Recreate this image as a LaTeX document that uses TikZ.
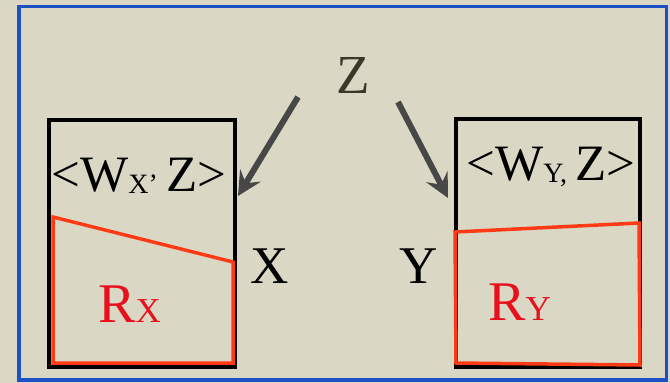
\documentclass[tikz,border=0pt]{standalone}
\usepackage{fontspec}
\setmainfont{Liberation Serif}
\newfontfamily\tnr{Liberation Serif}
\usetikzlibrary{arrows.meta}
\definecolor{bg}{HTML}{DAD8C5}
\definecolor{framecol}{HTML}{1C50C4}
\definecolor{redline}{HTML}{FF3A14}
\definecolor{redtext}{HTML}{E8101C}
\definecolor{arrowgray}{HTML}{474747}
\definecolor{zcol}{HTML}{3A3828}
\newcommand{\fs}[1]{\fontsize{#1}{#1}\selectfont}
\tikzset{
  boxstyle/.style={draw=black, line width=3.5pt, inner sep=0pt, anchor=north west},
  redstyle/.style={draw=redline, line width=3.5pt, line join=miter},
  arrowstyle/.style={draw=arrowgray, line width=6pt,
    -{Stealth[length=24pt,width=24pt,inset=9pt]}},
  lbl/.style={inner sep=0pt, anchor=base, font=\tnr},
}
\begin{document}
\begin{tikzpicture}[x=1pt,y=-1pt]
\useasboundingbox (0,0) rectangle (670,383);
\fill[bg] (0,0) rectangle (670,383);
\draw[framecol, line width=3.5pt] (19,6.5) rectangle (666.5,380);

% boxes
\node[boxstyle, minimum width=186pt, minimum height=247pt] (boxX) at (47,118) {};
\node[boxstyle, minimum width=184pt, minimum height=248pt] (boxY) at (454,117) {};

% red regions
\draw[redstyle] (53,217) -- (233,262) -- (233,363) -- (53,363) -- cycle;
\draw[redstyle] (455,232) -- (639,223) -- (640,365) -- (456,363) -- cycle;

% texts
\node[lbl] (wx) at (139,191) {\fs{51}<W\raisebox{-2pt}{\fs{28}X’}\,Z>};
\node[lbl] (wy) at (551,180) {\fs{51}<W\raisebox{-2pt}{\fs{28}Y,}\,Z>};
\node[lbl, text=zcol] (z) at (353,93) {\fs{55}Z};
\node[lbl] (x) at (270,283) {\fs{53}X};
\node[lbl] (y) at (419,283) {\fs{53}Y};
\node[lbl, anchor=base west, text=redtext] (rx) at (98,322) {\fs{56}R\fs{35}X};
\node[lbl, anchor=base west, text=redtext] (ry) at (488,320) {\fs{56}R\fs{35}Y};

% arrows
\coordinate (a1s) at (298,97);
\coordinate (a1e) at (238,196);
\coordinate (a2s) at (398,102);
\coordinate (a2e) at (448,198);
\draw[arrowstyle] (a1s) -- (a1e);
\draw[arrowstyle] (a2s) -- (a2e);
\end{tikzpicture}
\end{document}
